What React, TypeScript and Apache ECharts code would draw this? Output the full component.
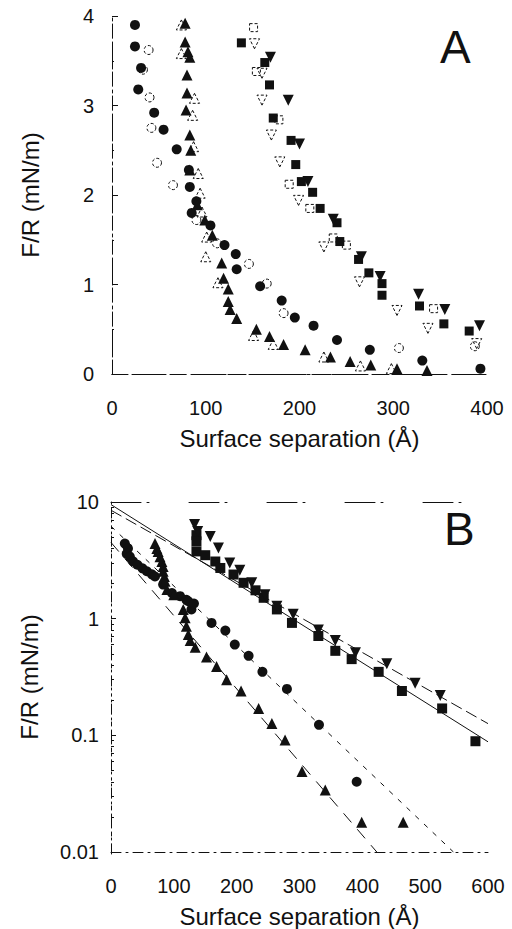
import React, { useEffect, useRef } from "react";
import * as echarts from "echarts";

// ---------- Panel A (linear) ----------
const aFilledCircle = [[24.5,3.90],[24.5,3.66],[31,3.42],[28,3.18],[45,2.92],[55,2.73],[69,2.51],[82,2.28],[83,2.09],[90,1.93],[85,1.80],[105,1.66],[120,1.44],[132,1.34],[133,1.17],[158,0.98],[181,0.82],[195,0.63],[215,0.54],[240,0.38],[275,0.27],[331,0.15],[393,0.06]];
const aOpenCircle = [[39,3.62],[33,3.40],[40,3.09],[42,2.75],[48,2.36],[65,2.11],[90,1.72],[112,1.46],[146,1.23],[165,1.01],[183,0.68],[306,0.29],[387,0.31]];
const aFilledTriUp = [[78,3.92],[78,3.71],[81,3.60],[83,3.54],[80,3.34],[80,3.14],[79,2.95],[83,2.67],[84,2.50],[83,2.28],[91,1.89],[99,1.72],[107,1.55],[117,1.24],[119,1.07],[124,0.95],[124,0.81],[126,0.72],[133,0.62],[154,0.50],[168,0.42],[183,0.33],[206,0.27],[233,0.19],[254,0.14],[276,0.10],[304,0.06],[336,0.04]];
const aOpenTriUp = [[74,3.90],[74,3.58],[88,3.08],[86,2.89],[87,2.54],[92,2.24],[94,2.02],[96,1.81],[101,1.53],[100,1.31],[113,1.02],[151,0.43],[172,0.33],[226,0.19],[265,0.09],[298,0.06]];
const aFilledSquare = [[138,3.70],[163,3.48],[168,3.23],[172,2.86],[191,2.61],[196,2.34],[202,2.15],[214,2.03],[222,1.85],[240,1.69],[243,1.48],[263,1.28],[274,1.13],[288,1.01],[288,0.88],[328,0.76],[354,0.56],[381,0.48]];
const aFilledTriDown = [[169,3.54],[188,3.06],[200,2.57],[209,2.15],[236,1.73],[266,1.31],[286,1.09],[327,0.89],[355,0.72],[392,0.54]];
const aOpenTriDown = [[152,3.69],[160,3.36],[160,3.06],[170,2.67],[179,2.37],[199,1.94],[226,1.42],[264,1.03],[304,0.71],[337,0.51],[389,0.34]];
const aOpenSquare = [[151,3.87],[154,3.38],[178,2.84],[189,2.12],[211,1.85],[236,1.52],[250,1.44],[343,0.73]];

// ---------- Panel B (log) ----------
const bFilledCircle = [[22,4.4],[27,4.0],[25,3.6],[30,3.4],[35,3.1],[42,2.9],[50,2.7],[57,2.55],[65,2.4],[70,2.3],[83,1.96],[97,1.66],[110,1.56],[120,1.45],[123,1.41],[128,1.2],[132,1.35],[160,0.92],[182,0.79],[197,0.60],[219,0.48],[241,0.35],[280,0.25],[331,0.123],[391,0.040]];
const bFilledTriUp = [[70,4.4],[73,4.0],[75,3.77],[78,3.4],[81,3.09],[83,2.8],[83,2.55],[85,2.3],[86,2.09],[89,1.78],[100,1.6],[115,1.2],[118,1.02],[120,0.86],[123,0.73],[126,0.65],[134,0.57],[152,0.47],[168,0.39],[184,0.30],[207,0.24],[235,0.17],[256,0.126],[277,0.091],[304,0.049],[341,0.034],[399,0.018],[465,0.018]];
const bFilledSquare = [[136,5.2],[136,4.6],[136,3.77],[150,3.5],[166,3.09],[174,2.72],[195,2.39],[211,2.03],[230,1.75],[243,1.51],[264,1.2],[288,0.92],[330,0.71],[357,0.53],[383,0.45],[426,0.35],[463,0.24],[527,0.17],[580,0.089]];
const bFilledTriDown = [[133,6.4],[138,5.6],[158,5.06],[171,4.03],[189,3.0],[205,2.6],[224,2.03],[245,1.6],[264,1.28],[290,1.09],[330,0.80],[357,0.65],[389,0.51],[439,0.41],[484,0.28],[524,0.22]];
const bFitSquares = [[0,9.5],[600,0.088]];
const bFitTriDown = [[0,8.5],[600,0.126]];
const bFitCircles = [[0,6.2],[545,0.01]];
const bFitTriUp = [[0,4.5],[423,0.01]];

// ---------- Axis texts ----------
const xTitle = "Surface separation (Å)";
const yTitle = "F/R (mN/m)";
const panelLetters = ["A", "B"];

const FONT = "Liberation Sans, Arial, sans-serif";
const INK = "#111";

function frameAxis(extra: any) {
  return {
    axisLabel: { show: false },
    axisTick: { show: false },
    splitLine: { show: false },
    ...extra,
  };
}

export default function App() {
  const ref = useRef<HTMLDivElement>(null);
  useEffect(() => {
    if (!ref.current) return;
    const chart = echarts.init(ref.current, undefined, { renderer: "svg" });

    const filled = (name: string, data: number[][], symbol: string, size: number, xi: number, yi: number, rot = 0) => ({
      name, type: "scatter", data, symbol, symbolSize: size, symbolRotate: rot,
      xAxisIndex: xi, yAxisIndex: yi,
      itemStyle: { color: INK, opacity: 1 },
      z: 3,
    });
    const open = (name: string, data: number[][], symbol: string, size: number, xi: number, yi: number, rot = 0) => ({
      name, type: "scatter", data, symbol, symbolSize: size, symbolRotate: rot,
      xAxisIndex: xi, yAxisIndex: yi,
      itemStyle: { color: "rgba(255,255,255,0)", borderColor: INK, borderWidth: 1, borderType: [3, 2], opacity: 1 },
      z: 2,
    });
    const fit = (name: string, data: number[][], type: any) => ({
      name, type: "line", data, showSymbol: false, symbol: "none",
      xAxisIndex: 2, yAxisIndex: 2,
      lineStyle: { color: INK, width: 1, type },
      z: 1,
    });

    const axisLabel = { color: INK, fontSize: 20, fontFamily: FONT };
    const nameStyle = { color: INK, fontSize: 24, fontFamily: FONT };

    chart.setOption({
      animation: false,
      backgroundColor: "#fff",
      grid: [
        { left: 112, top: 16, width: 375, height: 358 },
        { left: 112, top: 16, width: 375, height: 358 },
        { left: 111, top: 502, width: 377, height: 352 },
        { left: 111, top: 502, width: 377, height: 352 },
      ],
      xAxis: [
        {
          gridIndex: 0, type: "value", min: 0, max: 400, interval: 100, position: "bottom",
          axisLine: { lineStyle: { color: INK, width: 1, type: [14, 6] } },
          axisTick: { show: false }, splitLine: { show: false },
          axisLabel: { ...axisLabel, margin: 24 },
          name: xTitle, nameLocation: "middle", nameGap: 52, nameTextStyle: nameStyle,
        },
        frameAxis({ gridIndex: 1, type: "value", min: 0, max: 400, position: "top",
          axisLine: { lineStyle: { color: INK, width: 1, type: [16, 5, 3, 5] } } }),
        {
          gridIndex: 2, type: "value", min: 0, max: 600, interval: 100, position: "bottom",
          axisLine: { lineStyle: { color: INK, width: 1, type: [10, 5, 2, 5] } },
          axisTick: { show: false }, splitLine: { show: false },
          axisLabel: { ...axisLabel, margin: 24 },
          name: xTitle, nameLocation: "middle", nameGap: 52, nameTextStyle: nameStyle,
        },
        frameAxis({ gridIndex: 3, type: "value", min: 0, max: 600, position: "top",
          axisLine: { lineStyle: { color: INK, width: 1, type: [30, 6, 2, 40] } } }),
      ],
      yAxis: [
        {
          gridIndex: 0, type: "value", min: 0, max: 4, interval: 1, position: "left",
          axisLine: { show: true, lineStyle: { color: INK, width: 1, type: [8, 4, 2, 4] } },
          axisTick: { show: true, inside: true, length: 6, lineStyle: { color: INK } },
          minorTick: { show: true, splitNumber: 2, length: 2, lineStyle: { color: INK } },
          splitLine: { show: false },
          axisLabel: { ...axisLabel, margin: 18 },
          name: yTitle, nameLocation: "middle", nameGap: 70, nameRotate: 90, nameTextStyle: nameStyle,
        },
        frameAxis({ gridIndex: 1, type: "value", min: 0, max: 4, position: "right",
          axisLine: { show: true, lineStyle: { color: INK, width: 1, type: [12, 5, 2, 5] } } }),
        {
          gridIndex: 2, type: "log", logBase: 10, min: 0.01, max: 10, position: "left",
          axisLine: { show: true, lineStyle: { color: INK, width: 1, type: [2, 4] } },
          axisTick: { show: true, inside: true, length: 5, lineStyle: { color: INK } },
          minorTick: { show: true, splitNumber: 9, length: 3, lineStyle: { color: INK } },
          splitLine: { show: false },
          axisLabel: { ...axisLabel, margin: 12, formatter: (v: number) => String(+v.toPrecision(3)) },
          name: yTitle, nameLocation: "middle", nameGap: 70, nameRotate: 90, nameTextStyle: nameStyle,
        },
        frameAxis({ gridIndex: 3, type: "log", logBase: 10, min: 0.01, max: 10, position: "right",
          axisLine: { show: true, lineStyle: { color: INK, width: 1, type: [10, 8, 2, 8] } } }),
      ],
      series: [
        open("A open square", aOpenSquare, "rect", 8, 0, 0),
        open("A open circle", aOpenCircle, "circle", 9, 0, 0),
        open("A open triangle up", aOpenTriUp, "triangle", 10, 0, 0),
        open("A open triangle down", aOpenTriDown, "triangle", 10, 0, 0, 180),
        filled("A filled circle", aFilledCircle, "circle", 10, 0, 0),
        filled("A filled triangle up", aFilledTriUp, "triangle", 11, 0, 0),
        filled("A filled square", aFilledSquare, "rect", 9, 0, 0),
        filled("A filled triangle down", aFilledTriDown, "triangle", 11, 0, 0, 180),
        // dummy series to keep the frame axes alive
        { type: "scatter", data: [], xAxisIndex: 1, yAxisIndex: 1 },
        { type: "scatter", data: [], xAxisIndex: 3, yAxisIndex: 3 },
        fit("B fit squares", bFitSquares, "solid"),
        fit("B fit triangles down", bFitTriDown, [12, 5]),
        fit("B fit circles", bFitCircles, [5, 7]),
        fit("B fit triangles up", bFitTriUp, [12, 9]),
        filled("B filled circle", bFilledCircle, "circle", 10, 2, 2),
        filled("B filled triangle up", bFilledTriUp, "triangle", 11, 2, 2),
        filled("B filled square", bFilledSquare, "rect", 10, 2, 2),
        filled("B filled triangle down", bFilledTriDown, "triangle", 11, 2, 2, 180),
      ],
      graphic: [
        { type: "text", left: 440, top: 24, style: { text: panelLetters[0], fontSize: 46, fontFamily: FONT, fill: INK } },
        { type: "text", left: 444, top: 506, style: { text: panelLetters[1], fontSize: 46, fontFamily: FONT, fill: INK } },
      ],
    });
    return () => chart.dispose();
  }, []);
  return (
    <div
      ref={ref}
      style={{ position: "absolute", left: 0, top: 0, width: 512, height: 929, background: "#fff" }}
    />
  );
}
